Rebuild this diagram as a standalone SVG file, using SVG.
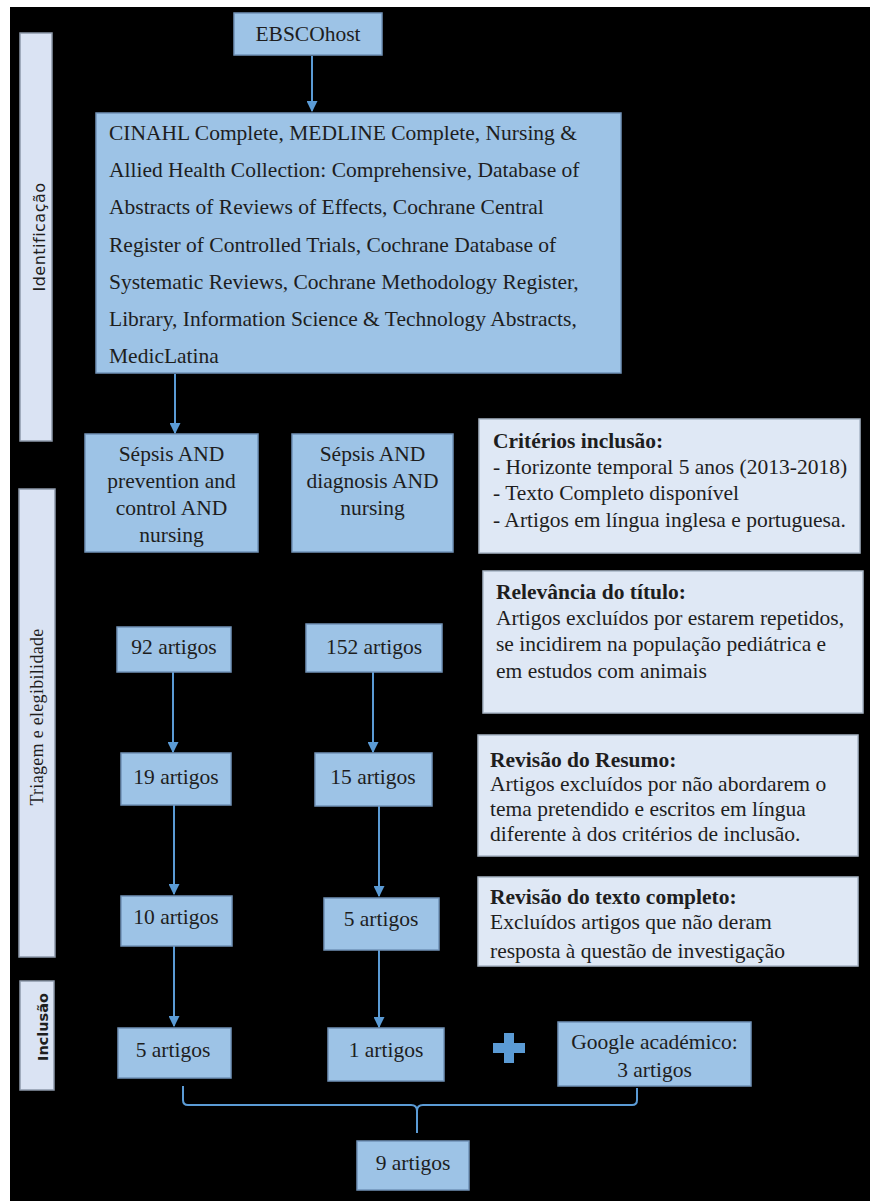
<svg xmlns="http://www.w3.org/2000/svg" width="870" height="1201" viewBox="0 0 870 1201">
<defs>
<style>
.box{fill:#9dc3e6;stroke:#7193b8;stroke-width:1.5}
.note{fill:#dfe8f5;stroke:#a9b6c6;stroke-width:1.5}
.side{fill:#dae3f3;stroke:#8d99aa;stroke-width:1.5}
.t{font-family:'Liberation Serif','Times New Roman',Times,serif;font-size:21.5px;fill:#1e1e1e}
.c{text-anchor:middle}
.b{font-weight:bold}
.lnk{stroke:#5b9bd5;stroke-width:2;fill:none}
</style>
<marker id="ah" viewBox="0 0 10 10" refX="9" refY="5" markerWidth="5.5" markerHeight="5.5" orient="auto" markerUnits="strokeWidth">
<path d="M0,0 L10,5 L0,10 z" fill="#5b9bd5"/>
</marker>
</defs>
<rect x="0" y="0" width="870" height="1201" fill="#ffffff"/>
<rect x="10" y="7" width="860" height="1194" fill="#000000"/>

<g id="side-identificacao">
<rect class="side" x="20" y="33" width="32" height="408"/>
<text transform="translate(45,237) rotate(-90)" text-anchor="middle" font-family="DejaVu Sans, sans-serif" font-size="16" fill="#1e1e1e" letter-spacing="0.5">Identificação</text>
</g>
<g id="side-triagem">
<rect class="side" x="19" y="489" width="36" height="468"/>
<text transform="translate(43,717) rotate(-90)" text-anchor="middle" font-family="Liberation Serif, Times New Roman, serif" font-size="18" fill="#1e1e1e" letter-spacing="0.3">Triagem e elegibilidade</text>
</g>
<g id="side-inclusao">
<rect class="side" x="20" y="981" width="34" height="109"/>
<text transform="translate(48,1027) rotate(-90)" text-anchor="middle" font-family="DejaVu Sans, sans-serif" font-size="14.5" font-weight="bold" fill="#1e1e1e">Inclusão</text>
</g>

<g id="connectors">
<line class="lnk" x1="312" y1="56" x2="312" y2="111" marker-end="url(#ah)"/>
<line class="lnk" x1="175" y1="374" x2="175" y2="433" marker-end="url(#ah)"/>
<line class="lnk" x1="173" y1="672" x2="173" y2="752" marker-end="url(#ah)"/>
<line class="lnk" x1="373" y1="672" x2="373" y2="752" marker-end="url(#ah)"/>
<line class="lnk" x1="174" y1="805" x2="174" y2="894" marker-end="url(#ah)"/>
<line class="lnk" x1="379" y1="806" x2="379" y2="896" marker-end="url(#ah)"/>
<line class="lnk" x1="174" y1="946" x2="174" y2="1026" marker-end="url(#ah)"/>
<line class="lnk" x1="379" y1="950" x2="379" y2="1027" marker-end="url(#ah)"/>
<path class="lnk" d="M183,1086 L183,1100 Q183,1105 188,1105 L411,1105 Q417,1105 417,1111 Q417,1105 423,1105 L632,1105 Q637,1105 637,1100 L637,1088"/>
<line class="lnk" x1="417" y1="1110" x2="417" y2="1133"/>
<path d="M504,1033 h10 v10 h11 v10 h-11 v10 h-10 v-10 h-11 v-10 h11 z" fill="#5b9bd5"/>
</g>

<g id="ebscohost">
<rect class="box" x="234" y="13" width="148" height="42"/>
<text class="t c" x="308" y="41">EBSCOhost</text>
</g>
<g id="databases">
<rect class="box" x="96" y="113" width="525" height="260"/>
<text class="t" x="109" y="140">CINAHL Complete, MEDLINE Complete, Nursing &amp;</text>
<text class="t" x="109" y="177.2">Allied Health Collection: Comprehensive, Database of</text>
<text class="t" x="109" y="214.4">Abstracts of Reviews of Effects, Cochrane Central</text>
<text class="t" x="109" y="251.6">Register of Controlled Trials, Cochrane Database of</text>
<text class="t" x="109" y="288.8">Systematic Reviews, Cochrane Methodology Register,</text>
<text class="t" x="109" y="326">Library, Information Science &amp; Technology Abstracts,</text>
<text class="t" x="109" y="363.2">MedicLatina</text>
</g>
<g id="search1">
<rect class="box" x="85" y="434" width="173" height="118"/>
<text class="t c" x="171.5" y="461">Sépsis AND</text>
<text class="t c" x="171.5" y="488">prevention and</text>
<text class="t c" x="171.5" y="515">control AND</text>
<text class="t c" x="171.5" y="542">nursing</text>
</g>
<g id="search2">
<rect class="box" x="292" y="434" width="161" height="118"/>
<text class="t c" x="372.5" y="461">Sépsis AND</text>
<text class="t c" x="372.5" y="488">diagnosis AND</text>
<text class="t c" x="372.5" y="515">nursing</text>
</g>
<g id="criterios">
<rect class="note" x="479" y="419" width="381" height="134"/>
<text class="t b" x="493" y="448">Critérios inclusão:</text>
<text class="t" x="493" y="474">- Horizonte temporal 5 anos (2013-2018)</text>
<text class="t" x="493" y="500">- Texto Completo disponível</text>
<text class="t" x="493" y="527">- Artigos em língua inglesa e portuguesa.</text>
</g>
<g id="relevancia">
<rect class="note" x="483" y="571" width="380" height="142"/>
<text class="t b" x="496" y="599">Relevância do título:</text>
<text class="t" x="496" y="625">Artigos excluídos por estarem repetidos,</text>
<text class="t" x="496" y="651">se incidirem na população pediátrica e</text>
<text class="t" x="496" y="678">em estudos com animais</text>
</g>
<g id="n92">
<rect class="box" x="117" y="627" width="114" height="45"/>
<text class="t c" x="174" y="654">92 artigos</text>
</g>
<g id="n152">
<rect class="box" x="306" y="624" width="136" height="48"/>
<text class="t c" x="374" y="654">152 artigos</text>
</g>
<g id="resumo">
<rect class="note" x="478" y="735" width="380" height="121"/>
<text class="t b" x="490" y="767">Revisão do Resumo:</text>
<text class="t" x="490" y="791">Artigos excluídos por não abordarem o</text>
<text class="t" x="490" y="816">tema pretendido e escritos em língua</text>
<text class="t" x="490" y="841">diferente à dos critérios de inclusão.</text>
</g>
<g id="n19">
<rect class="box" x="121" y="753" width="110" height="52"/>
<text class="t c" x="176" y="784">19 artigos</text>
</g>
<g id="n15">
<rect class="box" x="315" y="753" width="117" height="53"/>
<text class="t c" x="373" y="784">15 artigos</text>
</g>
<g id="textocompleto">
<rect class="note" x="478" y="877" width="380" height="89"/>
<text class="t b" x="490" y="904">Revisão do texto completo:</text>
<text class="t" x="490" y="929">Excluídos artigos que não deram</text>
<text class="t" x="490" y="958">resposta à questão de investigação</text>
</g>
<g id="n10">
<rect class="box" x="121" y="896" width="111" height="50"/>
<text class="t c" x="176" y="924">10 artigos</text>
</g>
<g id="n5a">
<rect class="box" x="324" y="898" width="115" height="52"/>
<text class="t c" x="381" y="926">5 artigos</text>
</g>
<g id="n5b">
<rect class="box" x="118" y="1028" width="113" height="50"/>
<text class="t c" x="173" y="1057">5 artigos</text>
</g>
<g id="n1">
<rect class="box" x="328" y="1028" width="116" height="53"/>
<text class="t c" x="386" y="1057">1 artigos</text>
</g>
<g id="google">
<rect class="box" x="558" y="1022" width="193" height="64"/>
<text class="t c" x="654.5" y="1049">Google académico:</text>
<text class="t c" x="654.5" y="1077">3 artigos</text>
</g>
<g id="n9">
<rect class="box" x="357" y="1141" width="112" height="49"/>
<text class="t c" x="413" y="1170">9 artigos</text>
</g>
</svg>
